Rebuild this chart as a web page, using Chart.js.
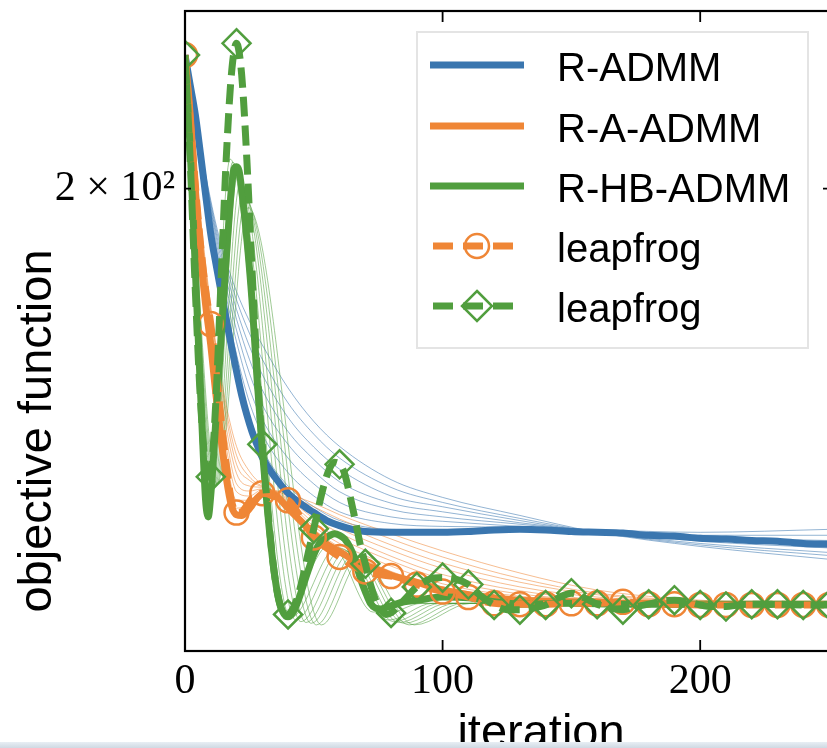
<!DOCTYPE html>
<html><head><meta charset="utf-8">
<script src="https://cdn.jsdelivr.net/npm/chart.js@4.4.1/dist/chart.umd.min.js"></script>
<style>
html,body{margin:0;padding:0;background:#fff;overflow:hidden;width:827px;height:748px;}
#wrap{position:absolute;left:0;top:0;width:832px;height:748px;}
#strip{position:absolute;left:0;top:742px;width:827px;height:6px;background:linear-gradient(#e8eef4,#cfd9e3);}
</style></head><body>
<div id="wrap"><canvas id="c" width="832" height="748" style="width:832px;height:748px"></canvas></div>
<div id="strip"></div>
<script>
// ---------- tick labels / titles ----------
const xTicks = [0, 100, 200];
const xTickLabels = ['0', '100', '200'];
const yTicks = [200];
const yTickLabels = ['2 \u00d7 10\u00b2'];
const xTitle = 'iteration';
const yTitle = 'objective function';
const legendLabels = ['R-ADMM', 'R-A-ADMM', 'R-HB-ADMM', 'leapfrog', 'leapfrog'];

// ---------- main series ----------
const admmX = [0,2,4,6,8,10,12,14,16,18,20,22,24,26,28,30,35,40,45,50,55,60,65,70,80,90,100,110,120,130,140,150,160,170,180,190,200,210,220,230,240,250];
const admmY = [226.5,220.3,214.3,206.6,198.9,191.7,186.5,181.7,177.1,172.7,168.7,165.0,162.0,159.5,157.5,155.7,152.8,150.6,149.1,147.9,146.8,146.1,145.6,145.3,145.2,145.2,145.2,145.3,145.5,145.6,145.5,145.3,145.2,145.1,144.8,144.7,144.4,144.3,144.1,144.0,143.7,143.6];

const aadmmX = [0,2,4,6,8,10,12,14,16,18,20,22,24,26,28,30,32,34,36,38,40,45,50,55,60,65,70,75,80,90,100,110,120,130,140,150,160,170,180,190,200,210,220,230,240,250];
const aadmmY = [226.5,214.3,199.8,188.2,179.5,172.9,165.1,158.4,152.8,148.9,147.6,147.5,148.0,148.9,149.9,150.5,150.6,150.5,150.0,149.3,148.5,146.7,145.0,143.6,142.6,141.6,140.8,140.2,139.5,138.6,137.6,137.0,136.6,136.3,136.2,136.1,136.1,135.9,135.9,135.8,135.8,135.8,135.8,135.8,135.8,135.8];
const leapAY = [226.5,213.3,200.8,190.0,182.0,176.3,169.0,161.3,154.7,149.6,147.9,148.0,148.9,149.9,150.5,150.6,150.5,150.2,150.0,149.7,149.6,147.2,144.5,143.1,141.9,140.8,140.0,139.6,139.4,138.3,137.4,136.7,135.9,135.8,135.8,135.9,135.9,136.1,135.8,135.8,135.7,135.7,135.7,135.7,135.7,135.7];

const hbX = [0,2,4,6,7,8,9,10,12,14,16,18,19,20,21,22,24,26,28,30,32,34,36,38,40,42,44,46,48,50,52,55,58,60,62,64,66,68,70,72,74,76,80,85,90,100,110,120,130,150,170,200,250];
const hbY = [226.5,207.6,185.6,165.8,156.9,149.6,147.3,150.3,161.3,173.9,187.3,199.8,203.7,204.1,203.3,199.8,190.9,180.3,167.4,156.9,148.3,141.6,137.0,134.8,134.2,134.8,136.3,138.3,140.3,142.2,143.6,144.5,145.0,144.8,144.3,143.2,141.6,139.2,137.4,135.9,135.3,135.2,135.6,136.1,136.3,136.7,136.6,136.1,135.8,135.9,135.8,135.8,135.8];

const leapHX = [0,2,4,6,8,9,10,12,14,16,18,20,22,24,26,28,30,32,34,36,38,40,42,44,46,48,50,52,54,56,58,60,62,64,66,68,70,72,74,76,78,80,85,90,95,100,105,110,115,120,125,130,135,140,145,150,155,160,165,170,175,180,185,190,195,200,205,210,215,220,230,240,250];
const leapHY = [226.5,205.6,182.0,164.2,154.0,151.8,152.9,164.2,183.7,205.6,222.4,229.0,222.4,205.6,185.6,169.0,157.6,148.9,141.6,137.0,134.8,134.5,135.3,137.0,139.6,142.7,145.7,148.9,151.8,154.0,155.0,154.7,153.3,150.3,147.0,143.6,141.0,138.3,136.3,135.1,134.5,134.7,136.3,138.0,139.0,139.2,139.0,138.3,136.8,135.7,135.1,135.1,135.3,135.7,136.6,137.2,136.6,135.8,135.3,135.1,135.5,135.8,136.2,136.3,136.1,135.7,135.5,135.5,135.7,135.8,135.8,135.7,135.7];

// ---------- thin fans ----------
const fanX = [0,4,8,12,16,20,25,30,40,50,60,80,100,130,160,200,250];
const blueFan1 = [226.5,214.1,199.3,187.2,177.9,169.7,161.9,156.9,151.6,148.7,146.8,145.6,145.5,145.6,145.5,145.2,145.6];
const blueFan2 = [226.5,214.1,199.9,188.4,179.3,171.4,163.9,159.1,153.5,150.2,148.0,146.4,146.0,145.9,145.5,144.8,144.8];
const blueFan3 = [226.5,213.9,200.5,189.5,180.8,173.4,166.1,161.3,155.6,151.9,149.3,147.3,146.7,146.0,145.3,144.5,144.1];
const blueFan4 = [226.5,213.9,201.1,190.5,182.4,175.3,168.4,163.5,157.6,153.7,150.8,148.3,147.3,146.3,145.3,144.3,143.6];
const blueFan5 = [226.5,213.9,201.6,191.4,183.8,177.1,170.6,165.8,159.5,155.4,152.2,149.2,148.0,146.5,145.3,144.0,143.1];
const blueFan6 = [226.5,213.7,202.0,192.1,185.0,178.7,172.7,168.2,161.6,157.2,154.0,150.2,148.7,146.8,145.2,143.7,142.5];
const blueFan7 = [226.5,213.7,202.4,192.8,186.1,180.3,174.8,170.6,163.8,159.1,155.6,151.4,149.3,147.1,145.2,143.5,142.1];
const blueFan8 = [226.5,213.7,202.7,193.5,186.9,181.7,176.8,172.9,166.1,161.0,157.3,152.5,150.0,147.5,145.2,143.3,141.6];

const orangeFan1 = [226.5,200.4,180.3,166.1,154.3,148.5,149.1,150.6,148.9,145.6,143.2,140.0,138.0,136.6,136.1,135.8,135.8];
const orangeFan2 = [226.5,201.0,181.4,167.3,155.7,149.6,149.6,150.8,149.2,146.0,143.7,140.7,138.4,136.8,136.2,135.8,135.8];
const orangeFan3 = [226.5,201.6,182.4,168.4,157.2,150.8,150.2,151.1,149.5,146.5,144.4,141.4,139.0,137.1,136.3,135.9,135.8];
const orangeFan4 = [226.5,202.2,183.3,169.5,158.7,151.9,150.9,151.2,149.7,147.1,145.1,142.0,139.6,137.5,136.4,135.9,135.8];
const orangeFan5 = [226.5,202.7,184.2,170.6,160.1,153.4,151.6,151.4,149.9,147.6,145.7,142.8,140.4,138.0,136.7,136.1,135.8];
const orangeFan6 = [226.5,203.5,185.1,171.8,161.6,154.7,152.4,151.5,150.2,148.1,146.4,143.5,141.1,138.6,137.0,136.1,135.8];
const orangeFan7 = [226.5,204.0,185.8,172.4,162.6,156.0,152.9,151.6,150.3,148.7,147.0,144.3,141.9,139.1,137.2,136.2,135.8];
const orangeFan8 = [226.5,204.6,186.5,172.9,163.5,157.3,153.7,151.8,150.5,149.2,147.6,145.0,142.7,139.8,137.6,136.3,135.8];

const greenFanX1 = [0,8.5,17.5,38,56.5,73,88,250];
const greenFan1  = [226.5,148.9,205.6,134.8,143.6,134.8,135.9,135.8];
const greenFanX2 = [0,9.5,18.5,41,59,76.5,92,250];
const greenFan2  = [226.5,149.6,205.0,134.1,143.2,134.4,135.9,135.8];
const greenFanX3 = [0,10,19.5,43,61,79,96,250];
const greenFan3  = [226.5,150.3,204.1,133.8,143.0,133.8,135.9,135.8];
const greenFanX4 = [0,10.5,20.5,45,62.5,81,99,250];
const greenFan4  = [226.5,150.8,202.7,133.6,142.7,133.6,135.9,135.8];
const greenFanX5 = [0,11,21.5,47,64,83,102,250];
const greenFan5  = [226.5,151.1,201.2,133.5,142.4,133.5,135.9,135.8];
const greenFanX6 = [0,11.5,22.5,49,65.5,85,105,250];
const greenFan6  = [226.5,151.4,199.4,133.4,142.2,133.4,135.9,135.8];
const greenFanX7 = [0,12,23.5,51,67,87,108,250];
const greenFan7  = [226.5,151.6,197.9,133.2,141.9,133.2,135.9,135.8];
const greenFanX8 = [0,12.5,24.5,53,68.5,89,111,250];
const greenFan8  = [226.5,151.9,196.5,133.2,141.6,133.2,135.9,135.8];

// ---------- styles ----------
const BLUE = '#3a76af', ORANGE = '#ef8636', GREEN = '#519e3e';
const BLUE_T = 'rgba(58,118,175,0.55)', ORANGE_T = 'rgba(239,134,54,0.55)', GREEN_T = 'rgba(81,158,62,0.55)';

const pts = (xs, ys) => xs.map((x, i) => ({x: x, y: ys[i]}));
const thin = (xs, ys, col) => ({data: pts(xs, ys), borderColor: col, borderWidth: 1, pointRadius: 0,
  cubicInterpolationMode: 'monotone', clip: 0, fill: false});

const datasets = [];
[blueFan1,blueFan2,blueFan3,blueFan4,blueFan5,blueFan6,blueFan7,blueFan8].forEach(a => datasets.push(Object.assign(thin(fanX, a, BLUE_T), {order: 9})));
[orangeFan1,orangeFan2,orangeFan3,orangeFan4,orangeFan5,orangeFan6,orangeFan7,orangeFan8].forEach(a => datasets.push(Object.assign(thin(fanX, a, ORANGE_T), {order: 8})));
[[greenFanX1,greenFan1],[greenFanX2,greenFan2],[greenFanX3,greenFan3],[greenFanX4,greenFan4],[greenFanX5,greenFan5],[greenFanX6,greenFan6],[greenFanX7,greenFan7],[greenFanX8,greenFan8]]
  .forEach(p => datasets.push(Object.assign(thin(p[0], p[1], GREEN_T), {order: 7})));

datasets.push({label: legendLabels[0], data: pts(admmX, admmY), borderColor: BLUE, borderWidth: 7, pointRadius: 0, cubicInterpolationMode: 'monotone', clip: 0, order: 5});
datasets.push({label: legendLabels[1], data: pts(aadmmX, aadmmY), borderColor: ORANGE, borderWidth: 7, pointRadius: 0, cubicInterpolationMode: 'monotone', clip: 0, order: 4});
datasets.push({label: legendLabels[2], data: pts(hbX, hbY), borderColor: GREEN, borderWidth: 7, pointRadius: 0, cubicInterpolationMode: 'monotone', clip: 0, order: 3});
datasets.push({label: legendLabels[3], data: pts(aadmmX, leapAY), borderColor: ORANGE, borderWidth: 7, borderDash: [20, 9],
  cubicInterpolationMode: 'monotone', clip: 0, order: 2,
  pointStyle: 'circle', pointRadius: c => (c.raw && c.raw.x % 10 === 0) ? 12 : 0,
  pointBorderColor: ORANGE, pointBackgroundColor: 'rgba(0,0,0,0)', pointBorderWidth: 2.5});
datasets.push({label: legendLabels[4], data: pts(leapHX, leapHY), borderColor: GREEN, borderWidth: 7, borderDash: [20, 9],
  cubicInterpolationMode: 'monotone', clip: 0, order: 1,
  pointStyle: 'rectRot', pointRadius: c => (c.raw && c.raw.x % 10 === 0) ? 14 : 0,
  pointBorderColor: GREEN, pointBackgroundColor: 'rgba(0,0,0,0)', pointBorderWidth: 2.5});

// ---------- frame, inward ticks, titles, legend ----------
const decor = {
  id: 'decor',
  afterDraw(chart) {
    const ctx = chart.ctx, a = chart.chartArea, xs = chart.scales.x, ys = chart.scales.y;
    ctx.save();
    ctx.strokeStyle = '#000';
    ctx.lineWidth = 2.2;
    ctx.strokeRect(a.left, a.top, a.right - a.left, a.bottom - a.top);
    ctx.lineWidth = 1.8;
    ctx.beginPath();
    xTicks.forEach(v => {
      const px = xs.getPixelForValue(v);
      ctx.moveTo(px, a.bottom); ctx.lineTo(px, a.bottom - 11);
      ctx.moveTo(px, a.top); ctx.lineTo(px, a.top + 11);
    });
    yTicks.forEach(v => {
      const py = ys.getPixelForValue(v);
      ctx.moveTo(a.left, py); ctx.lineTo(a.left + 6, py);
      ctx.moveTo(a.right, py); ctx.lineTo(a.right - 6, py);
    });
    ctx.stroke();

    // axis titles
    ctx.fillStyle = '#000';
    ctx.font = '47px "Liberation Sans", Arial, sans-serif';
    ctx.textAlign = 'center';
    ctx.textBaseline = 'alphabetic';
    ctx.fillText(xTitle, 541, 747);
    ctx.save();
    ctx.translate(51, 431);
    ctx.rotate(-Math.PI / 2);
    ctx.fillText(yTitle, 0, 0);
    ctx.restore();

    // legend
    const bx = 417, by = 32, bw = 391, bh = 316;
    ctx.fillStyle = 'rgba(255,255,255,0.9)';
    ctx.fillRect(bx, by, bw, bh);
    ctx.strokeStyle = '#e4e4e4';
    ctx.lineWidth = 2;
    ctx.strokeRect(bx, by, bw, bh);
    const rows = [65, 126, 186, 246, 306];
    const cols = [BLUE, ORANGE, GREEN, ORANGE, GREEN];
    ctx.font = '40px "Liberation Sans", Arial, sans-serif';
    ctx.textAlign = 'left';
    rows.forEach((ry, i) => {
      ctx.strokeStyle = cols[i];
      ctx.lineWidth = 7;
      ctx.setLineDash(i >= 3 ? [20, 10] : []);
      ctx.lineDashOffset = i >= 3 ? -3 : 0;
      ctx.beginPath();
      ctx.moveTo(430, ry); ctx.lineTo(i >= 3 ? 513 : 524, ry);
      ctx.stroke();
      ctx.setLineDash([]);
      if (i === 3) {
        ctx.lineWidth = 2.5;
        ctx.beginPath(); ctx.arc(477, ry, 12, 0, Math.PI * 2); ctx.stroke();
      }
      if (i === 4) {
        ctx.lineWidth = 2.5;
        ctx.beginPath();
        ctx.moveTo(477, ry - 15); ctx.lineTo(492, ry); ctx.lineTo(477, ry + 15); ctx.lineTo(462, ry); ctx.closePath();
        ctx.stroke();
      }
      ctx.fillStyle = '#000';
      ctx.fillText(legendLabels[i], 557, ry + 16);
    });
    ctx.restore();
  }
};

const noPad = s => { s.paddingTop = 0; s.paddingBottom = 0; s.paddingLeft = 0; s.paddingRight = 0; };

new Chart(document.getElementById('c'), {
  type: 'line',
  data: {datasets: datasets},
  options: {
    responsive: false,
    animation: false,
    events: [],
    layout: {autoPadding: false, padding: {top: 11, right: 3, left: 0, bottom: 0}},
    plugins: {legend: {display: false}, tooltip: {enabled: false}},
    elements: {line: {tension: 0}},
    scales: {
      x: {
        type: 'linear', min: 0, max: 250,
        grid: {display: false, drawTicks: false},
        border: {display: false},
        afterBuildTicks: s => { s.ticks = xTicks.map(v => ({value: v})); },
        afterFit: s => { s.height = 97; noPad(s); },
        ticks: {
          color: '#000', padding: 6, maxRotation: 0,
          font: {family: '"Liberation Serif", "DejaVu Serif", serif', size: 42},
          callback: v => { const i = xTicks.indexOf(v); return i >= 0 ? xTickLabels[i] : ''; }
        }
      },
      y: {
        type: 'logarithmic', min: 130, max: 236,
        grid: {display: false, drawTicks: false},
        border: {display: false},
        afterBuildTicks: s => { s.ticks = yTicks.map(v => ({value: v})); },
        afterFit: s => { s.width = 185; noPad(s); },
        ticks: {
          color: '#000', padding: 10,
          font: {family: '"Liberation Serif", "DejaVu Serif", serif', size: 42},
          callback: v => { const i = yTicks.indexOf(v); return i >= 0 ? yTickLabels[i] : ''; }
        }
      }
    }
  },
  plugins: [decor]
});
</script>
</body></html>
